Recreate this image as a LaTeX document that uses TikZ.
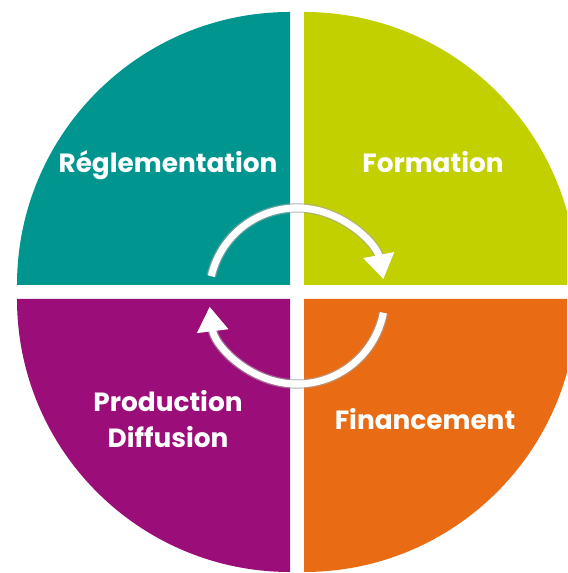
\documentclass[tikz,border=0pt]{standalone}
\usepackage{fontspec}
\setmainfont{Poppins}
\usetikzlibrary{arrows.meta}
\definecolor{regteal}{RGB}{0,150,143}
\definecolor{formlime}{RGB}{195,208,0}
\definecolor{prodpurple}{RGB}{155,13,120}
\definecolor{finorange}{RGB}{233,107,20}
\tikzset{
  quarter label/.style={text=white, font=\bfseries\fontsize{15}{20.5}\selectfont, align=center},
  cycle arrow/.style={white, line width=4pt, -{Triangle[width=17pt,length=14pt]},
    preaction={draw=gray!70, line width=5.5pt, opacity=0.6}}
}
\begin{document}
\begin{tikzpicture}[x=0.02cm, y=0.02cm]
        \useasboundingbox (0,0) rectangle (567,573);
        \clip (0,0) rectangle (567,573);
        % The four quarters of the disc
        \fill[regteal] (290,288) -- (17,288) arc[start angle=180, end angle=90, radius=273] -- cycle;
        \fill[formlime] (304,288) -- (304,561) arc[start angle=90, end angle=0, radius=273] -- cycle;
        \fill[prodpurple] (290,274) -- (290,1) arc[start angle=270, end angle=180, radius=273] -- cycle;
        \fill[finorange] (304,274) -- (577,274) arc[start angle=0, end angle=-90, radius=273] -- cycle;
        % Label the quarters
        \node[quarter label, anchor=base] (regl) at (168,400) {Réglementation};
        \node[quarter label, anchor=base] (form) at (433,400) {Formation};
        \node[quarter label] (prod) at (168,154) {Production\\Diffusion};
        \node[quarter label, anchor=base] (fin) at (425,143) {Financement};
        % The cycle in the middle
        \coordinate (hub) at (297,277);
        \draw[cycle arrow] ([shift={(167:88)}]hub) arc[start angle=167, end angle=11, radius=88];
        \draw[cycle arrow] ([shift={(-11:88)}]hub) arc[start angle=-11, end angle=-173, radius=88];
    \end{tikzpicture}
\end{document}
